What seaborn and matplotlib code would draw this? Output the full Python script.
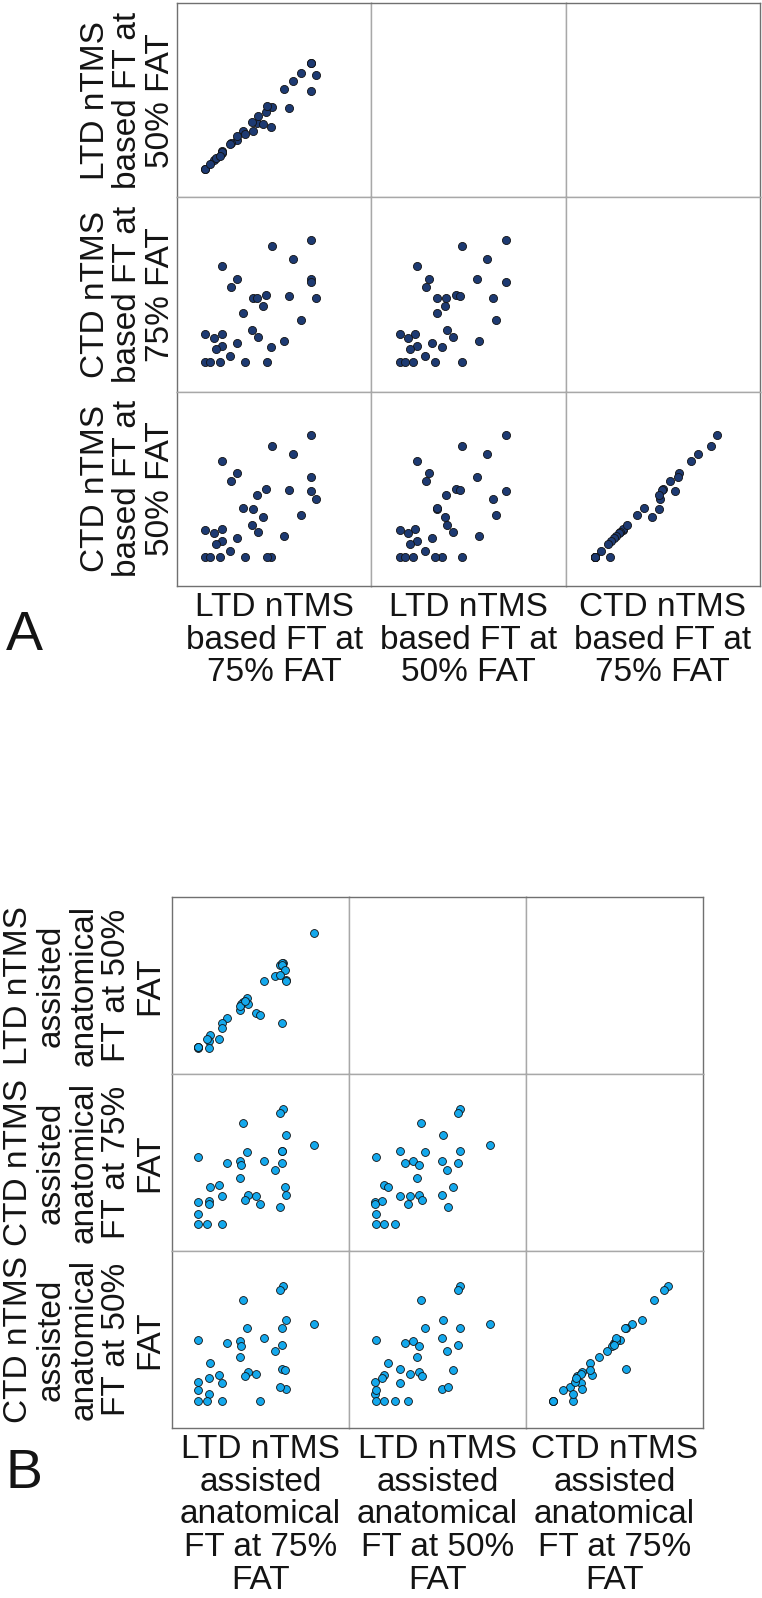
import matplotlib
matplotlib.use("Agg")
import matplotlib.pyplot as plt
import seaborn as sns
import pandas as pd

sns.set_style("white")
plt.rcParams['font.family'] = ['Liberation Sans', 'DejaVu Sans']

W, H = 762, 1598

# ---------------- Panel A data (nTMS based FT) ----------------
a_ltd75 = [134, 95.3, 115.7, 45.3, 60, 134, 134, 53.7, 88.7, 112, 139.3, 76.3, 79.7, 86, 66, 124,
           28.3, 44.7, 74.7, 81, 36.7, 107.3, 60.3, 45, 94, 39, 53, 28.3, 33, 43.3, 68, 90.3]
a_ltd50 = [134.7, 90.7, 116, 46, 57.7, 106, 134.7, 54.3, 85, 89, 122, 66, 74.3, 73.3, 66, 124.3,
           28.7, 44, 75.3, 81.7, 37, 108, 61, 45.3, 70.7, 39, 53.7, 28.7, 33.3, 41.3, 63.7, 91]
a_ctd75 = [151.7, 145.3, 132.3, 125.7, 113, 112.7, 109.7, 104.7, 97, 96, 94, 93.3, 93.7, 86, 78.3, 71.3,
           57.7, 57.7, 61.3, 54.3, 53.3, 50.3, 48.7, 45.3, 44.3, 42.7, 35.3, 29.7, 29.7, 29.7, 29.7, 29.7]
a_ctd50 = [151.3, 140.3, 131.7, 125.3, 112.7, 109, 95, 104.7, 96.7, 95.7, 87, 76.7, 91.3, 69.3, 78.3, 71,
           56, 57.3, 61, 54, 52.7, 50, 48.3, 45, 29, 42, 34.7, 29, 29, 29, 29, 29]

# ---------------- Panel B data (nTMS assisted anatomical FT) ----------------
b_ltd75 = [110.7, 108.4, 71.4, 114, 142.4, 26.4, 110, 74.7, 110, 54.7, 68.4, 92, 69.4, 110.4, 102.7, 67.7,
           46.7, 38.4, 113.4, 50, 75.7, 73.4, 83.7, 87.7, 113.7, 107.7, 26.4, 37.4, 37.4, 26.4, 26.4, 35, 50.4]
b_ltd50 = [111, 109, 72, 94.4, 141, 27, 111, 75.7, 51.4, 55.7, 63.7, 93, 70, 109.4, 98, 68.4,
           35, 38.7, 104, 51.4, 70, 72.7, 60.7, 59, 93, 98.7, 26.3, 33.3, 26.3, 27, 27, 35.3, 46]
b_ctd75 = [142, 138, 128.3, 116, 105.7, 94.3, 99.7, 99, 100.3, 88.3, 90, 89.7, 85.7, 87.7, 81.3, 73,
           66.3, 64.3, 64.3, 55.3, 56, 51.3, 54.7, 47, 56.3, 44.3, 48.7, 50, 47.3, 37.3, 26.7, 26.7, 26.7]
b_ctd50 = [142.3, 138.3, 128.3, 107.7, 103.7, 87.7, 100.3, 99.7, 59, 85, 86.7, 90, 82.3, 83, 77.3, 70.7,
           53, 64.7, 58.3, 44.7, 55.7, 51.7, 54.3, 27, 39.3, 40.7, 46, 49.7, 34, 37.7, 27, 27, 27]

labels_a = ["LTD nTMS\nbased FT at\n75% FAT", "LTD nTMS\nbased FT at\n50% FAT",
            "CTD nTMS\nbased FT at\n75% FAT", "CTD nTMS\nbased FT at\n50% FAT"]
labels_b = ["LTD nTMS\nassisted\nanatomical\nFT at 75%\nFAT", "LTD nTMS\nassisted\nanatomical\nFT at 50%\nFAT",
            "CTD nTMS\nassisted\nanatomical\nFT at 75%\nFAT", "CTD nTMS\nassisted\nanatomical\nFT at 50%\nFAT"]

df_a = pd.DataFrame({"v0": a_ltd75, "v1": a_ltd50, "v2": a_ctd75, "v3": a_ctd50})
df_b = pd.DataFrame({"v0": b_ltd75, "v1": b_ltd50, "v2": b_ctd75, "v3": b_ctd50})

fig = plt.figure(figsize=(W / 100, H / 100), dpi=100)

FS = 24
LS = 1.07
OUTER = '#707070'
INNER = '#a8a8a8'
TXT = '#141414'


def draw_matrix(df, labels, left, top, cell, lim, face, s, ylab_x, xlab_y):
    cols = list(df.columns)
    for r in range(3):
        for c in range(3):
            x0 = left + c * cell
            y0 = top + (r + 1) * cell
            ax = fig.add_axes([x0 / W, 1 - y0 / H, cell / W, cell / H])
            if c <= r:
                sns.scatterplot(data=df, x=cols[c], y=cols[r + 1], ax=ax, color=face,
                                edgecolor='#111111', linewidth=0.6, s=s, legend=False)
            ax.set_xlim(0, lim)
            ax.set_ylim(0, lim)
            ax.set_xticks([])
            ax.set_yticks([])
            ax.set_xlabel("")
            ax.set_ylabel("")
            for side in ['left', 'right', 'top', 'bottom']:
                sp = ax.spines[side]
                sp.set_visible(True)
                sp.set_linewidth(1.0)
                outer = ((side == 'left' and c == 0) or (side == 'right' and c == 2) or
                         (side == 'top' and r == 0) or (side == 'bottom' and r == 2))
                sp.set_color(OUTER if outer else INNER)
    for r in range(3):
        yc = top + cell * (r + 0.5)
        fig.text(ylab_x / W, 1 - yc / H, labels[r + 1], rotation=90, fontsize=FS,
                 linespacing=LS, ha='center', va='center',
                 multialignment='center', color=TXT)
    for c in range(3):
        xc = left + cell * (c + 0.5)
        fig.text(xc / W, 1 - xlab_y / H, labels[c], fontsize=FS,
                 linespacing=LS, ha='center', va='top', multialignment='center', color=TXT)


draw_matrix(df_a, labels_a, 177, 3, 194.3, 194.3, '#1d3a72', 34, 128, 592)
draw_matrix(df_b, labels_b, 172, 897, 177, 177, '#14a8ec', 32, 84, 1434)

fig.text(6 / W, 1 - 650 / H, "A", fontsize=40, ha='left', va='baseline', color=TXT)
fig.text(6 / W, 1 - 1488 / H, "B", fontsize=40, ha='left', va='baseline', color=TXT)

fig.savefig("out.png", dpi=100, facecolor='white')
